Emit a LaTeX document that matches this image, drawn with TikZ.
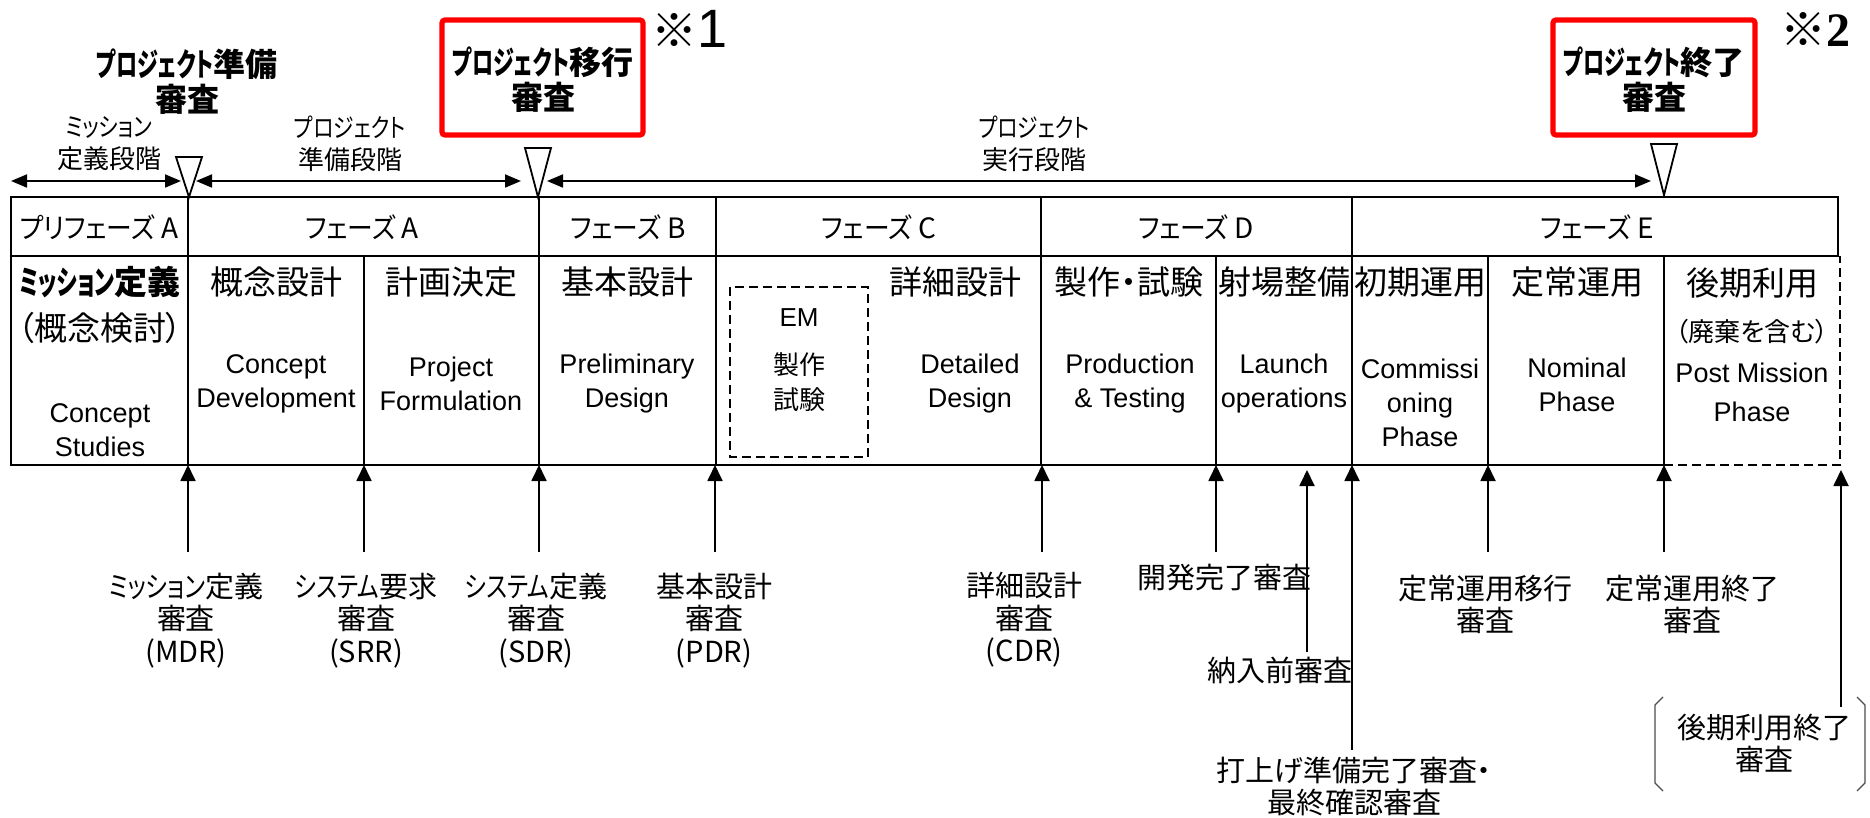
\documentclass[tikz,border=0pt]{standalone}
\usepackage{fontspec}
\setmainfont{Noto Sans CJK JP}[RawFeature=+palt]
\newfontfamily\jpfull{Noto Sans CJK JP}
\newfontfamily\knb{Noto Sans CJK JP}[RawFeature=+palt,FakeStretch=0.66]
\newfontfamily\knr{Noto Sans CJK JP}[RawFeature=+palt,FakeStretch=0.8]
\newfontfamily\knp{Noto Sans CJK JP}[RawFeature=+palt,FakeStretch=0.92]
\newfontfamily\en{Liberation Sans}
\newfontfamily\enserif{Liberation Serif}
\usetikzlibrary{arrows.meta}
\tikzset{
  boxline/.style={line width=1.1pt},
  hdr/.style={font=\fontsize{16.5}{20}\selectfont, inner sep=0pt},
  hdrs/.style={font=\fontsize{13}{16}\selectfont, inner sep=0pt},
  entxt/.style={font=\en\fontsize{13.5}{17}\selectfont, align=center, inner sep=0pt},
  emtxt/.style={font=\fontsize{13}{17.5}\selectfont, align=center, inner sep=0pt},
  lbl/.style={font=\fontsize{14.5}{16.25}\selectfont, align=center, inner sep=0pt},
  toplbl/.style={font=\fontsize{13}{16}\selectfont, align=center, inner sep=0pt},
  phs/.style={font=\fontsize{14}{16}\selectfont, inner sep=0pt},
  revtxt/.style={font=\bfseries\fontsize{16}{17.5}\selectfont, align=center, inner sep=0pt},
  arr/.style={line width=0.9pt, -{Triangle[width=7.5pt,length=8pt]}},
  darr/.style={line width=0.9pt, {Triangle[width=6.5pt,length=8pt]}-{Triangle[width=6.5pt,length=8pt]}},
  redbox/.style={draw=red, line width=2.6pt, rounded corners=1.5pt},
  dsh/.style={line width=1pt, dash pattern=on 4.5pt off 2.5pt},
  tri/.style={line width=0.9pt, fill=white},
  brk/.style={line width=0.6pt, draw=black!70},
}
\begin{document}
\begin{tikzpicture}[x=0.5pt,y=-0.5pt]
\useasboundingbox (0,0) rectangle (1870,818);
\fill[white] (0,0) rectangle (1870,818);

% ---------- top review labels ----------
\node[revtxt] (prep) at (187,81.5) {{\knb プロジェクト}準備\\審査};
\draw[redbox] (442,20) rectangle (643,135);
\node[revtxt] (trans) at (543,80) {{\knb プロジェクト}移行\\審査};
\draw[redbox] (1553,20) rectangle (1755,135);
\node[revtxt] (fin) at (1654,80) {{\knb プロジェクト}終了\\審査};
\node[inner sep=0pt] (note1) at (690,29) {{\jpfull\fontsize{23}{23}\selectfont ※}{\en\fontsize{27}{27}\selectfont 1}};
\node[inner sep=0pt] (note2) at (1815,29) {{\jpfull\fontsize{23}{23}\selectfont ※}{\enserif\bfseries\fontsize{24}{24}\selectfont 2}};

% ---------- stage labels and arrows ----------
\node[toplbl] (st1) at (109,144) {{\knr ミッション}\\定義段階};
\node[toplbl] (st2) at (350,144) {{\knr プロジェクト}\\準備段階};
\node[toplbl] (st3) at (1034,144) {{\knr プロジェクト}\\実行段階};
\coordinate (a1l) at (11,181);  \coordinate (a1r) at (181,181);
\coordinate (a2l) at (196,181); \coordinate (a2r) at (521,181);
\coordinate (a3l) at (547,181); \coordinate (a3r) at (1651,181);
\draw[darr] (a1l) -- (a1r);
\draw[darr] (a2l) -- (a2r);
\draw[darr] (a3l) -- (a3r);
\draw[tri] (176,157) -- (202,157) -- (189,197) -- cycle;
\draw[tri] (525,148) -- (551,148) -- (538,197) -- cycle;
\draw[tri] (1651,144) -- (1677,144) -- (1664,195) -- cycle;

% ---------- phase row ----------
\draw[boxline] (11,197) rectangle (188,256);
\draw[boxline] (188,197) rectangle (539,256);
\draw[boxline] (539,197) rectangle (716,256);
\draw[boxline] (716,197) rectangle (1041,256);
\draw[boxline] (1041,197) rectangle (1352,256);
\draw[boxline] (1352,197) rectangle (1838,256);
\node[phs] (pA0) at (99,227) {{\knp プリフェーズ} A};
\node[phs] (pA) at (362,227) {{\knp フェーズ} A};
\node[phs] (pB) at (628,227) {{\knp フェーズ} B};
\node[phs] (pC) at (879,227) {{\knp フェーズ} C};
\node[phs] (pD) at (1196,227) {{\knp フェーズ} D};
\node[phs] (pE) at (1597,227) {{\knp フェーズ} E};

% ---------- main row ----------
\draw[boxline] (1664,465) -- (11,465) -- (11,256) -- (1838,256);
\foreach \x in {188,364,539,716,1041,1216,1352,1488,1664}
  \draw[boxline] (\x,256) -- (\x,465);
\draw[dsh] (1664,465) -- (1840,465) -- (1840,256);
\draw[dsh] (730,287) rectangle (868,457);

\node[hdr,font=\bfseries\fontsize{16.5}{20}\selectfont] (h1) at (100,282) {{\knb ミッション}定義};
\node[hdr] (h1b) at (100,328) {（概念検討）};
\node[entxt] (e1) at (100,430) {Concept\\Studies};
\node[hdr] (h2) at (276,282) {概念設計};
\node[entxt] (e2) at (276,383.5) {Concept\\Development};
\node[hdr] (h3) at (451,282) {計画決定};
\node[entxt] (e3) at (451,383.5) {Project\\Formulation};
\node[hdr] (h4) at (627,282) {基本設計};
\node[entxt] (e4) at (627,383.5) {Preliminary\\Design};
\node[hdr] (h5) at (955,282) {詳細設計};
\node[entxt] (e5) at (970,383.5) {Detailed\\Design};
\node[emtxt,font=\en\fontsize{13}{17.5}\selectfont] (em1) at (799,318) {EM};
\node[emtxt] (em2) at (799,382.5) {製作\\試験};
\node[hdr] (h6) at (1129,282) {製作・試験};
\node[entxt] (e6) at (1130,383.5) {Production\\\& Testing};
\node[hdr] (h7) at (1284,282) {射場整備};
\node[entxt] (e7) at (1284,383.5) {Launch\\operations};
\node[hdr] (h8) at (1420,282) {初期運用};
\node[entxt] (e8) at (1420,403) {Commissi\\oning\\Phase};
\node[hdr] (h9) at (1577,282) {定常運用};
\node[entxt] (e9) at (1577,384.5) {Nominal\\Phase};
\node[hdr] (h10) at (1752,283) {後期利用};
\node[hdrs] (h10b) at (1752,332) {（廃棄を含む）};
\node[entxt,font=\en\fontsize{13.5}{19.5}\selectfont] (e10) at (1752,392.5) {Post Mission\\Phase};

% ---------- review milestones ----------
\node[lbl] (mdr) at (186,620.5) {{\knr ミッション}定義\\審査\\(MDR)};
\node[lbl] (srr) at (366,620.5) {{\knr システム}要求\\審査\\(SRR)};
\node[lbl] (sdr) at (536,620.5) {{\knr システム}定義\\審査\\(SDR)};
\node[lbl] (pdr) at (714,620.5) {基本設計\\審査\\(PDR)};
\node[lbl] (cdr) at (1024,620) {詳細設計\\審査\\(CDR)};
\node[lbl] (dev) at (1224,578) {開発完了審査};
\node[lbl] (deliv) at (1280,670) {納入前審査};
\node[lbl] (launch) at (1354,786.5) {打上げ準備完了審査・\\最終確認審査};
\node[lbl] (nomst) at (1485,604.5) {定常運用移行\\審査};
\node[lbl] (nomend) at (1692,604.5) {定常運用終了\\審査};
\node[lbl] (postend) at (1764,743.5) {後期利用終了\\審査};
\draw[brk] (1663,697) -- (1655,705) -- (1655,783) -- (1663,791);
\draw[brk] (1857,697) -- (1865,705) -- (1865,783) -- (1857,791);

\foreach \n/\x/\ty/\hy in {mdr/188/552/465, srr/364/552/465, sdr/539/552/465, pdr/715/552/465, cdr/1042/552/465, dev/1216/552/465, deliv/1307/652/470, launch/1352/750/465, nomst/1488/552/465, nomend/1664/552/465, postend/1841/707/470} {
  \coordinate (t-\n) at (\x,\ty);
  \coordinate (h-\n) at (\x,\hy);
  \draw[arr] (t-\n) -- (h-\n);
}
\end{tikzpicture}
\end{document}
